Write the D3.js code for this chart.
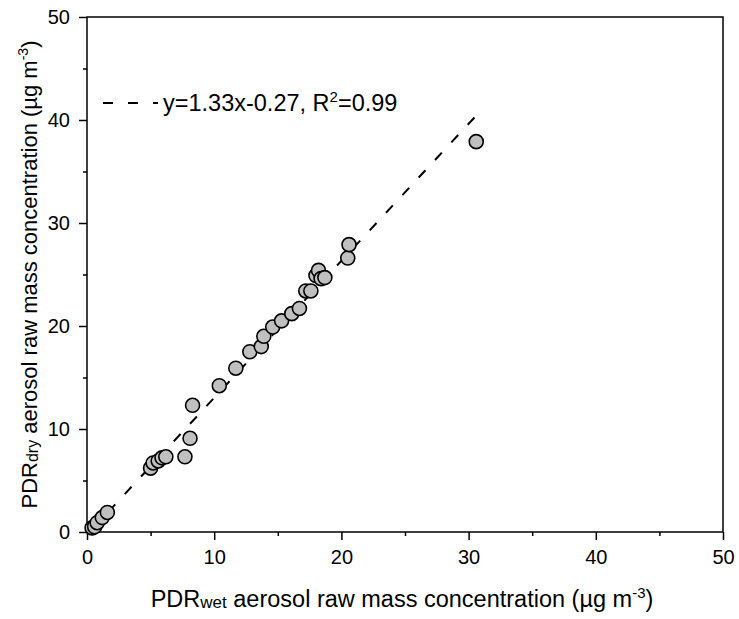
<!DOCTYPE html>
<html>
<head>
<meta charset="utf-8">
<title>PDR dry vs wet</title>
<style>
  body { margin: 0; background: #fff; }
  svg text { font-family: "Liberation Sans", Arial, sans-serif; fill: #000; }
</style>
</head>
<body>
<div id="chart"></div>
<script src="https://d3js.org/d3.v7.min.js"></script>
<script>
// values
const wetValues = [0.4, 0.6, 0.8, 1.2, 1.6, 5.0, 5.2, 5.6, 5.9, 6.2, 7.7, 8.1, 8.3,
  10.4, 11.7, 12.8, 13.7, 13.9, 14.6, 15.3, 16.1, 16.7, 17.2, 17.6, 18.0, 18.2, 18.4, 18.7,
  20.5, 20.6, 30.6];
const dryValues = [0.4, 0.5, 0.9, 1.4, 1.9, 6.2, 6.7, 6.9, 7.2, 7.3, 7.3, 9.1, 12.3,
  14.2, 15.9, 17.5, 18.0, 19.0, 19.9, 20.5, 21.2, 21.7, 23.4, 23.4, 24.9, 25.4, 24.6, 24.7,
  26.6, 27.9, 37.9];
const fitSlope = 1.33;
const fitIntercept = -0.27;
const tickValues = [0, 10, 20, 30, 40, 50];
const minorTicks = [5, 15, 25, 35, 45];

const W = 739, H = 619;
const margin = { top: 17, right: 16, bottom: 87, left: 87 };
const w = W - margin.left - margin.right;
const h = H - margin.top - margin.bottom;

const svg = d3.select('#chart').append('svg')
  .attr('width', W).attr('height', H);

const g = svg.append('g')
  .attr('transform', `translate(${margin.left},${margin.top})`);

const x = d3.scaleLinear().domain([0, 50]).range([0, w]);
const y = d3.scaleLinear().domain([0, 50]).range([h, 0]);

// frame
g.append('rect')
  .attr('width', w).attr('height', h)
  .attr('fill', 'none').attr('stroke', '#000').attr('stroke-width', 1.5);

// axes
g.append('g').attr('transform', `translate(0,${h})`)
  .call(d3.axisBottom(x).tickValues(tickValues).tickSize(8).tickPadding(10));
g.append('g').attr('transform', `translate(0,${h})`)
  .call(d3.axisBottom(x).tickValues(minorTicks).tickSize(4).tickFormat(''));
g.append('g')
  .call(d3.axisLeft(y).tickValues(tickValues).tickSize(8).tickPadding(9));
g.append('g')
  .call(d3.axisLeft(y).tickValues(minorTicks).tickSize(4).tickFormat(''));

g.selectAll('.domain').remove();
g.selectAll('.tick line').attr('stroke', '#000').attr('stroke-width', 1.5);
g.selectAll('.tick text').style('font-size', '20px');

// fit line
const xs = d3.extent(wetValues);
g.append('line')
  .attr('x1', x(xs[0])).attr('y1', y(fitSlope * xs[0] + fitIntercept))
  .attr('x2', x(xs[1])).attr('y2', y(fitSlope * xs[1] + fitIntercept))
  .attr('stroke', '#000').attr('stroke-width', 2)
  .attr('stroke-dasharray', '10,14');

// points
g.append('g').selectAll('circle')
  .data(wetValues.map((d, i) => [d, dryValues[i]]))
  .enter().append('circle')
  .attr('cx', d => x(d[0]))
  .attr('cy', d => y(d[1]))
  .attr('r', 7)
  .attr('fill', '#c0c0c0')
  .attr('stroke', '#000')
  .attr('stroke-width', 1.6);

// legend
const leg = g.append('g').attr('transform', 'translate(16,86)');
leg.append('line')
  .attr('x1', 0).attr('x2', 55).attr('y1', 0).attr('y2', 0)
  .attr('stroke', '#000').attr('stroke-width', 2)
  .attr('stroke-dasharray', '10,15');
const lt = leg.append('text').attr('x', 60).attr('y', 8).style('font-size', '23.5px');
lt.append('tspan').text('y=1.33x-0.27, R');
lt.append('tspan').attr('dy', -9).style('font-size', '15px').text('2');
lt.append('tspan').attr('dy', 9).text('=0.99');

// axis titles
const xt = svg.append('text')
  .attr('x', margin.left + w / 2 - 3).attr('y', 607)
  .attr('text-anchor', 'middle').style('font-size', '23.5px');
xt.append('tspan').text('PDR');
xt.append('tspan').style('font-size', '17px').attr('dy', 1).text('wet');
xt.append('tspan').attr('dy', -1).text(' aerosol raw mass concentration (\u00b5g m');
xt.append('tspan').style('font-size', '15px').attr('dy', -9).text('-3');
xt.append('tspan').attr('dy', 9).text(')');

const yt = svg.append('text')
  .attr('transform', `translate(37,${margin.top + h / 2}) rotate(-90)`)
  .attr('text-anchor', 'middle').style('font-size', '22px');
yt.append('tspan').text('PDR');
yt.append('tspan').style('font-size', '16px').attr('dy', 1).text('dry');
yt.append('tspan').attr('dy', -1).text(' aerosol raw mass concentration (\u00b5g m');
yt.append('tspan').style('font-size', '14px').attr('dy', -9).text('-3');
yt.append('tspan').attr('dy', 9).text(')');
</script>
</body>
</html>
